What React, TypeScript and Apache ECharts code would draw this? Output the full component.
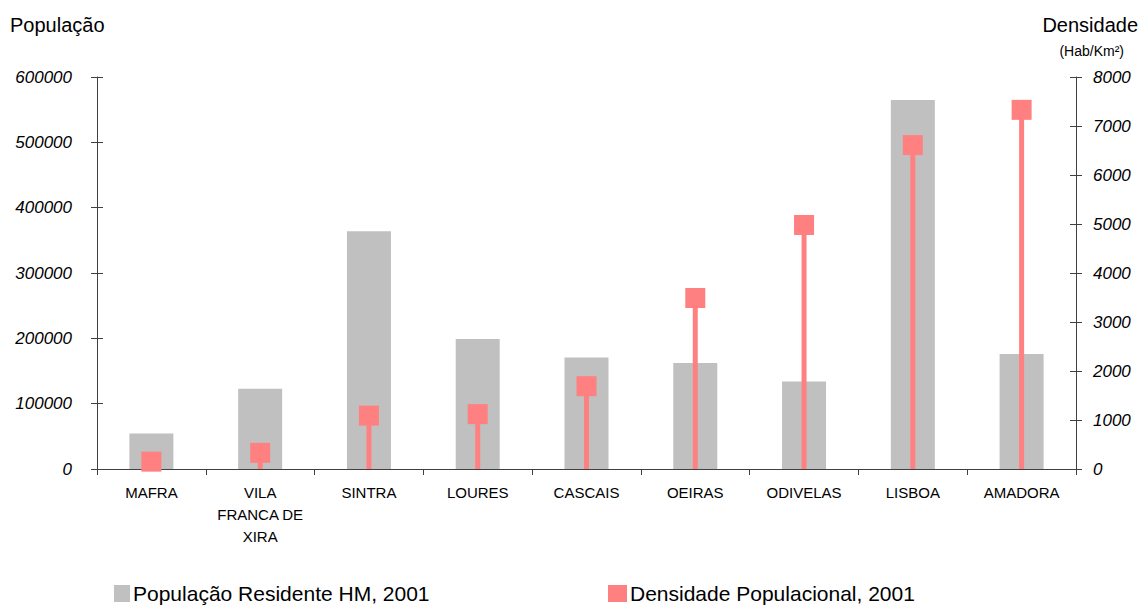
import React, { useEffect, useRef } from "react";
import * as echarts from "echarts";

const categories = ["MAFRA", "VILA\nFRANCA DE\nXIRA", "SINTRA", "LOURES", "CASCAIS", "OEIRAS", "ODIVELAS", "LISBOA", "AMADORA"];
const population = [54358, 122908, 363749, 199059, 170683, 162128, 133847, 564657, 175872];
const density = [150, 330, 1090, 1120, 1690, 3490, 4980, 6610, 7330];
const popAxis = { min: 0, max: 600000, interval: 100000 };
const densAxis = { min: 0, max: 8000, interval: 1000 };
const popName = "População Residente HM, 2001";
const densName = "Densidade Populacional, 2001";

const FONT = "'Liberation Sans', Arial, sans-serif";
const AXIS_COLOR = "#404040";
const GRAY = "#C0C0C0";
const PINK = "#FF8080";

export default function App() {
  const ref = useRef<HTMLDivElement>(null);
  useEffect(() => {
    if (!ref.current) return;
    const chart = echarts.init(ref.current, undefined, { renderer: "svg" });
    const yLabel = {
      fontFamily: FONT, fontSize: 17, fontStyle: "italic", color: "#000",
      formatter: (v: number) => String(v),
    };
    const legendText = { fontFamily: FONT, fontSize: 21, lineHeight: 21, color: "#000", padding: [0, 0, 0, -2] };
    chart.setOption({
      animation: false,
      backgroundColor: "#fff",
      grid: { left: 97, right: 65, top: 77, bottom: 136, containLabel: false },
      legend: [
        {
          left: 114, top: 583, padding: 0, itemWidth: 16, itemHeight: 17, icon: "rect",
          data: [popName], textStyle: legendText,
        },
        {
          left: 608, top: 583, padding: 0, itemWidth: 19, itemHeight: 17, icon: "rect",
          data: [densName], textStyle: legendText,
        },
      ],
      graphic: [
        { type: "text", left: 10, top: 15, style: { text: "População", font: `20px ${FONT}`, fill: "#000" } },
        { type: "text", right: 3, top: 15, style: { text: "Densidade", font: `20px ${FONT}`, fill: "#000" } },
        { type: "text", right: 17, top: 44, style: { text: "(Hab/Km²)", font: `14px ${FONT}`, fill: "#000" } },
      ],
      xAxis: [
        {
          type: "category",
          data: categories,
          boundaryGap: true,
          axisLine: { show: true, lineStyle: { color: AXIS_COLOR, width: 1 } },
          axisTick: { show: true, length: 6, inside: false, lineStyle: { color: AXIS_COLOR } },
          axisLabel: { fontFamily: FONT, fontSize: 15, color: "#000", margin: 12, lineHeight: 22, interval: 0 },
          splitLine: { show: false },
        },
        {
          type: "category",
          data: categories,
          show: false,
        },
      ],
      yAxis: [
        {
          type: "value", position: "left", ...popAxis,
          axisLine: { show: true, lineStyle: { color: AXIS_COLOR } },
          axisTick: { show: true, length: 6, lineStyle: { color: AXIS_COLOR } },
          axisLabel: { ...yLabel, margin: 25 },
          splitLine: { show: false },
        },
        {
          type: "value", position: "right", ...densAxis,
          axisLine: { show: true, lineStyle: { color: AXIS_COLOR } },
          axisTick: { show: true, length: 6, lineStyle: { color: AXIS_COLOR } },
          axisLabel: { ...yLabel, margin: 17 },
          splitLine: { show: false },
        },
        {
          type: "value", position: "left", ...popAxis,
          axisLine: { show: false },
          axisTick: { show: true, inside: true, length: 6, lineStyle: { color: AXIS_COLOR } },
          axisLabel: { show: false },
          splitLine: { show: false },
        },
        {
          type: "value", position: "right", ...densAxis,
          axisLine: { show: false },
          axisTick: { show: true, inside: true, length: 6, lineStyle: { color: AXIS_COLOR } },
          axisLabel: { show: false },
          splitLine: { show: false },
        },
      ],
      series: [
        {
          name: popName,
          type: "bar",
          xAxisIndex: 0,
          yAxisIndex: 0,
          data: population,
          barWidth: 44,
          itemStyle: { color: GRAY },
          z: 1,
        },
        {
          name: "stem",
          type: "bar",
          xAxisIndex: 1,
          yAxisIndex: 1,
          data: density,
          barWidth: 5,
          itemStyle: { color: PINK },
          z: 2,
        },
        {
          name: densName,
          type: "scatter",
          xAxisIndex: 1,
          yAxisIndex: 1,
          data: density,
          symbol: "rect",
          symbolSize: 20,
          itemStyle: { color: PINK, opacity: 1 },
          z: 3,
        },
      ],
    });
    return () => chart.dispose();
  }, []);
  return <div ref={ref} style={{ width: 1141, height: 605, position: "absolute", left: 0, top: 0 }} />;
}
